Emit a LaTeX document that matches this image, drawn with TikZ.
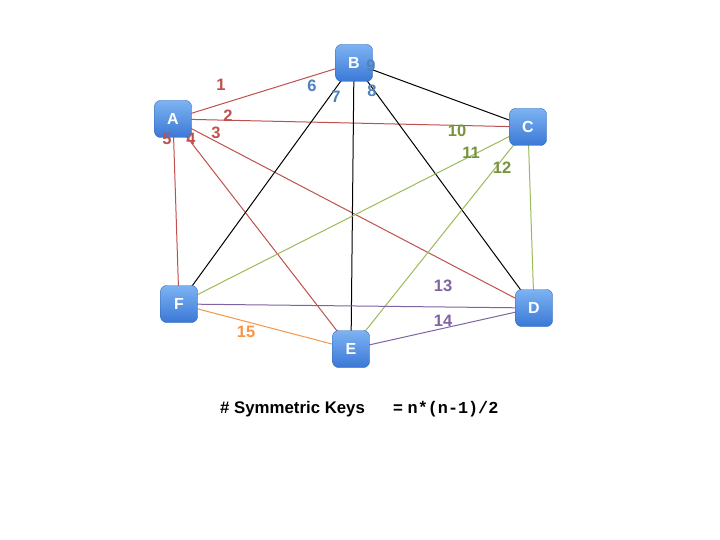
\documentclass[tikz,border=0pt]{standalone}
\usepackage{fontspec}
\setmainfont{Liberation Sans}
\newfontfamily\monofnt{Liberation Mono}
\begin{document}
\begin{tikzpicture}[x=1pt,y=-1pt,
  keybox/.style={rounded corners=6pt,minimum width=37pt,minimum height=37pt,inner sep=0pt,
    top color=boxtop,bottom color=boxbot,draw=boxbot!85!black,line width=0.4pt,
    text=white,font=\bfseries\fontsize{16}{16}\selectfont},
  lbl/.style={font=\bfseries\fontsize{16.5}{16.5}\selectfont,inner sep=0pt},
  edge/.style={line width=1pt}]
\definecolor{boxtop}{HTML}{7DB3F2}
\definecolor{boxbot}{HTML}{3A78D6}
\definecolor{kred}{HTML}{C0504D}
\definecolor{kblue}{HTML}{4F81BD}
\definecolor{kgreenl}{HTML}{9BBB59}
\definecolor{kgreen}{HTML}{77933C}
\definecolor{kpurple}{HTML}{8064A2}
\definecolor{korange}{HTML}{F79646}
\useasboundingbox (0,0) rectangle (720,540);
\fill[white] (0,0) rectangle (720,540);
\coordinate (a) at (173,119);
\coordinate (b) at (354,63);
\coordinate (c) at (528,127);
\coordinate (d) at (534,308);
\coordinate (e) at (351,349);
\coordinate (f) at (179,304);
% edges
\draw[edge,kred] (a) -- (b) (a) -- (c) (a) -- (d) (a) -- (e) (a) -- (f);
\draw[edge,black] (b) -- (c) (b) -- (d) (b) -- (e) (b) -- (f);
\draw[edge,kgreenl] (c) -- (d) (c) -- (e) (c) -- (f);
\draw[edge,kpurple] (d) -- (f) (d) -- (e);
\draw[edge,korange] (e) -- (f);
% nodes
\node[keybox] (A) at (a) {A};
\node[keybox] (B) at (b) {B};
\node[keybox] (C) at (c) {C};
\node[keybox] (D) at (d) {D};
\node[keybox] (E) at (e) {E};
\node[keybox] (F) at (f) {F};
% labels
\node[lbl,kred] (l1) at (221,85) {1};
\node[lbl,kred] (l2) at (228,116) {2};
\node[lbl,kred] (l3) at (216,133) {3};
\node[lbl,kred] (l4) at (191,139) {4};
\node[lbl,kred] (l5) at (167,139) {5};
\node[lbl,kblue] (l6) at (312,86) {6};
\node[lbl,kblue] (l7) at (336,97) {7};
\node[lbl,kblue] (l8) at (372,91) {8};
\node[lbl,kblue] (l9) at (371,66) {9};
\node[lbl,kgreen] (l10) at (457,131) {10};
\node[lbl,kgreen] (l11) at (471,153) {11};
\node[lbl,kgreen] (l12) at (502,168) {12};
\node[lbl,kpurple] (l13) at (443,286) {13};
\node[lbl,kpurple] (l14) at (443,321) {14};
\node[lbl,korange] (l15) at (246,332) {15};
% formula
\node[font=\bfseries\fontsize{16.8}{16.8}\selectfont,inner sep=0pt,anchor=west] (t1) at (220,409) {\# Symmetric Keys};
\node[font=\bfseries\fontsize{16.8}{16.8}\selectfont,inner sep=0pt,anchor=west] (t2) at (393,409) {= {\monofnt\fontsize{16.8}{16.8}\selectfont n*(n-1)/2}};
\end{tikzpicture}
\end{document}
